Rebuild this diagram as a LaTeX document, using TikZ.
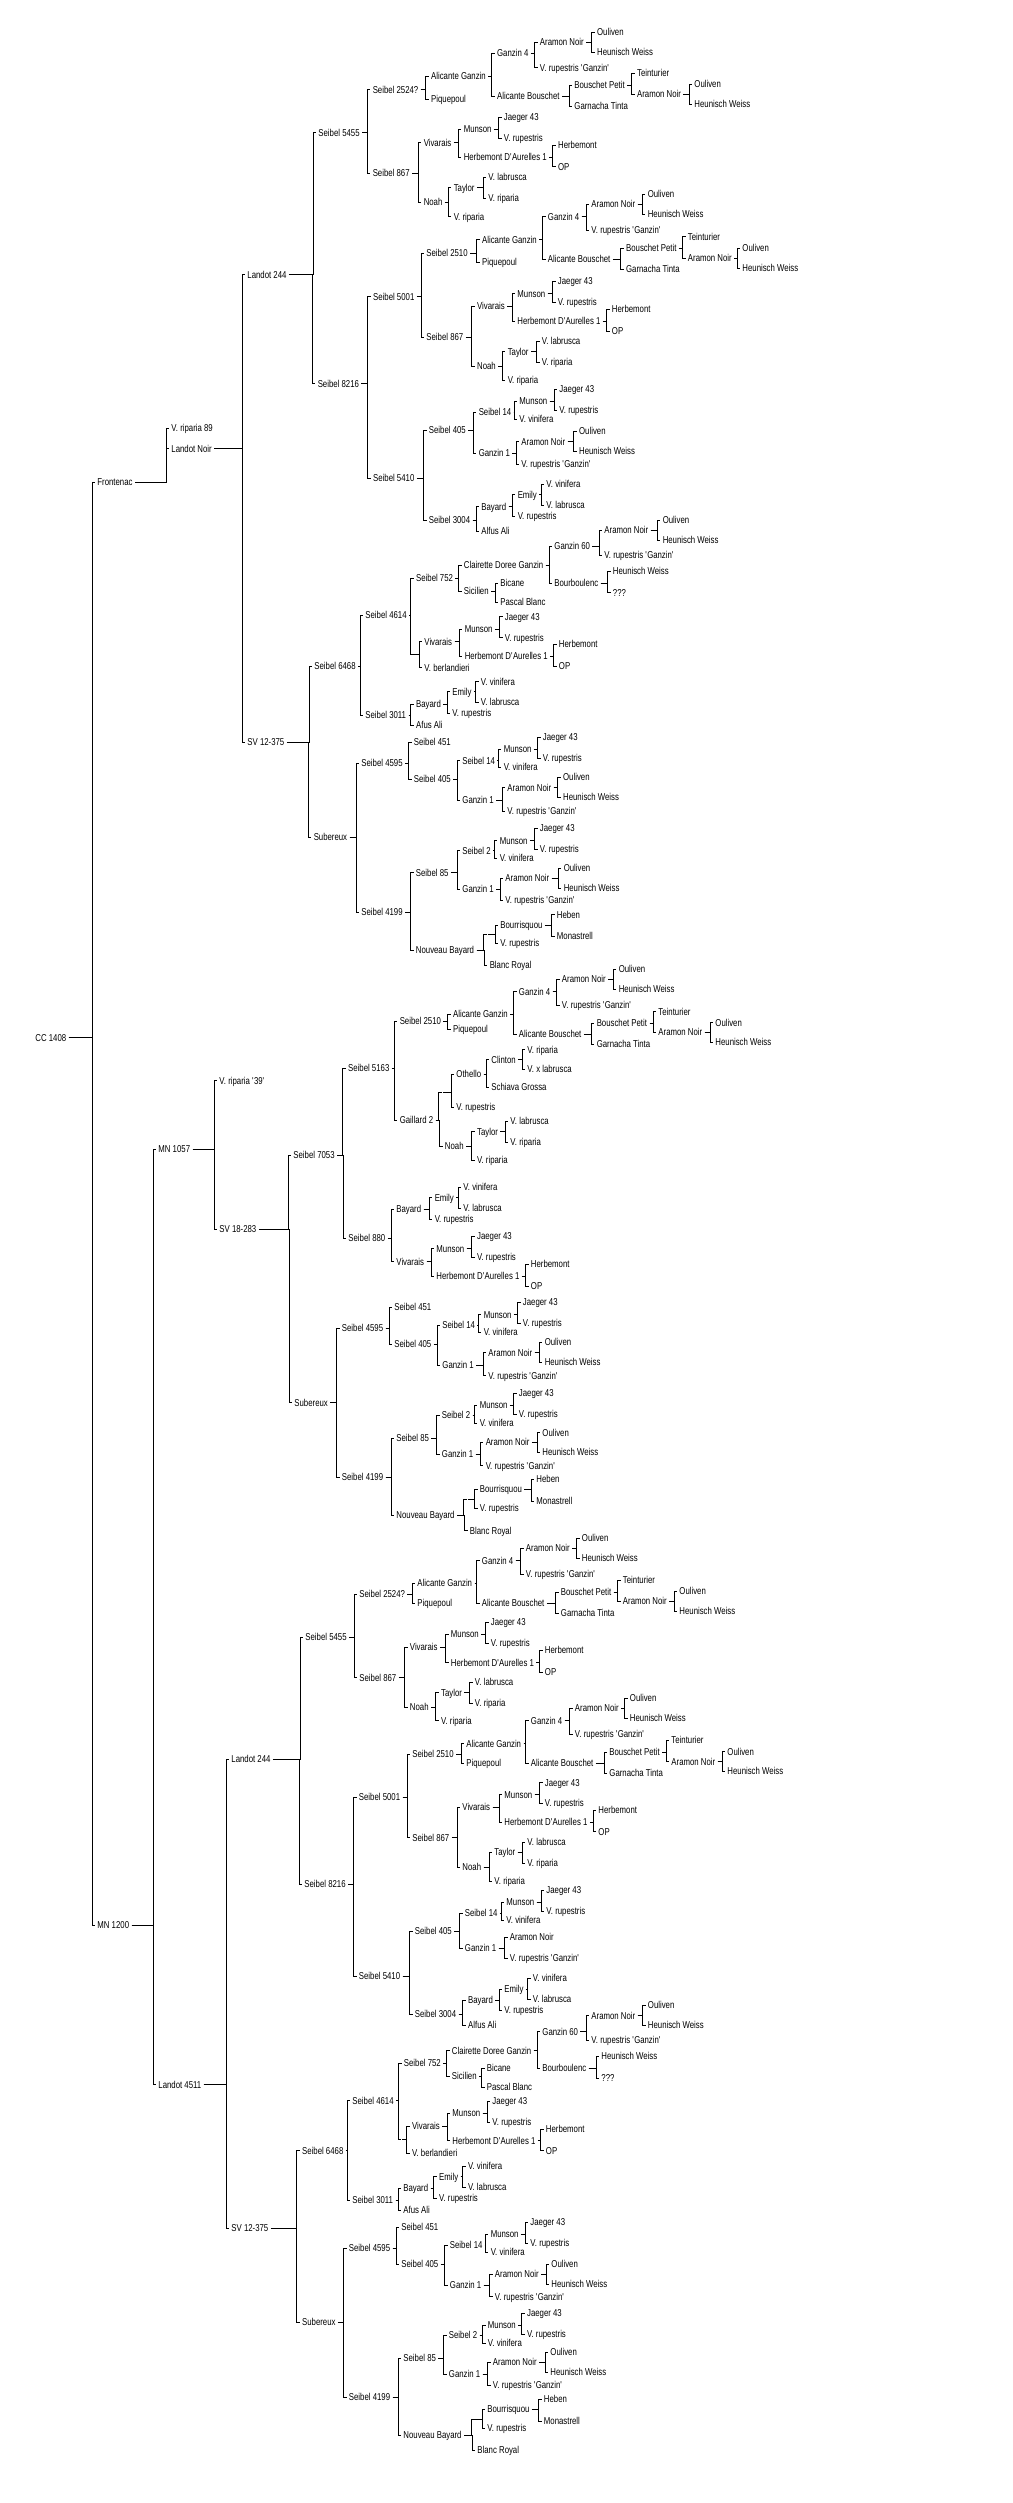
\documentclass[tikz,border=0pt]{standalone}
\usepackage{fontspec}
\newfontfamily\treefont[FakeStretch=0.78]{Liberation Sans}
\tikzset{
  vine/.style={anchor=west, xshift=-2pt, inner xsep=2pt, inner ysep=0pt, text height=7.2pt, text depth=0pt, font=\treefont},
  joint/.style={inner sep=0pt, minimum size=0pt}
}
\newcommand\link[2]{\draw (#1.east) -| ([xshift=-3pt]#2.west) -- (#2.west);}
\newcommand\qt{\textquotesingle}

\begin{document}
\begin{tikzpicture}[x=1pt, y=-1pt, line width=0.9pt]
    \fill[white] (0,0) rectangle (1012,2503);

    % left part
    \node[vine] (cc) at (35,1037.5) {CC 1408};
    \node[vine] (fr) at (97,482) {Frontenac};
    \node[vine] (vr89) at (171,428) {V. riparia 89};
    \node[vine] (ln) at (171,448.5) {Landot Noir};
    \node[vine] (mn1200) at (97,1925) {MN 1200};
    \node[vine] (mn1057) at (158,1149) {MN 1057};
    \node[vine] (l4511) at (158,2084.6) {Landot 4511};
    \node[vine] (vr39) at (219,1080.6) {V. riparia \qt39\qt};
    \node[vine] (sv18) at (219,1229) {SV 18-283};
    \node[vine] (la) at (247,274.5) {Landot 244};
    \node[vine] (sva) at (247,742) {SV 12-375};
    \node[vine] (lb) at (231,1759) {Landot 244};
    \node[vine] (svb) at (231,2228) {SV 12-375};
    \node[vine] (s7053) at (293,1155) {Seibel 7053};
    \node[vine] (subm) at (294,1402.7) {Subereux};
    \link{cc}{fr} \link{cc}{mn1200}
    \link{fr}{vr89} \link{fr}{ln}
    \link{ln}{la} \link{ln}{sva}
    \link{mn1200}{mn1057} \link{mn1200}{l4511}
    \link{mn1057}{vr39} \link{mn1057}{sv18}
    \link{sv18}{s7053} \link{sv18}{subm}
    \link{l4511}{lb} \link{l4511}{svb}

    % Landot 244 (top)
    \node[vine] (a1) at (318,132.7) {Seibel 5455};
    \node[vine] (a2) at (372.3,89.7) {Seibel 2524?};
    \node[vine] (a3) at (372.3,173) {Seibel 867};
    \node[vine] (a4) at (430.7,76.3) {Alicante Ganzin};
    \node[vine] (a5) at (430.7,99.3) {Piquepoul};
    \node[vine] (a6) at (496.7,53.3) {Ganzin 4};
    \node[vine] (a7) at (496.7,96.3) {Alicante Bouschet};
    \node[vine] (a8) at (539.5,42.3) {Aramon Noir};
    \node[vine] (a9) at (539.5,67.7) {V. rupestris \qt Ganzin\qt};
    \node[vine] (a10) at (596.7,32.3) {Ouliven};
    \node[vine] (a11) at (596.7,52.3) {Heunisch Weiss};
    \node[vine] (a12) at (574,85.3) {Bouschet Petit};
    \node[vine] (a13) at (574,106.3) {Garnacha Tinta};
    \node[vine] (a14) at (636.7,73) {Teinturier};
    \node[vine] (a15) at (636.7,94.3) {Aramon Noir};
    \node[vine] (a16) at (694,84.3) {Ouliven};
    \node[vine] (a17) at (694,104.3) {Heunisch Weiss};
    \node[vine] (a18) at (423.3,142.7) {Vivarais};
    \node[vine] (a19) at (423.3,202.3) {Noah};
    \node[vine] (a20) at (463.3,129) {Munson};
    \node[vine] (a21) at (463.3,157) {Herbemont D\qt Aurelles 1};
    \node[vine] (a22) at (503.5,117.3) {Jaeger 43};
    \node[vine] (a23) at (503.5,138) {V. rupestris};
    \node[vine] (a24) at (557.7,145.3) {Herbemont};
    \node[vine] (a25) at (557.7,166.7) {OP};
    \node[vine] (a26) at (453.3,187.7) {Taylor};
    \node[vine] (a27) at (453.3,216.7) {V. riparia};
    \node[vine] (a28) at (488,177) {V. labrusca};
    \node[vine] (a29) at (488,198.3) {V. riparia};
    \node[vine] (a30) at (317.3,383.7) {Seibel 8216};
    \node[vine] (a31) at (372.7,296.7) {Seibel 5001};
    \node[vine] (a32) at (372.7,478.3) {Seibel 5410};
    \node[vine] (a33) at (426,253.3) {Seibel 2510};
    \node[vine] (a34) at (426,337.3) {Seibel 867};
    \node[vine] (a35) at (481.7,239.7) {Alicante Ganzin};
    \node[vine] (a36) at (481.7,262.3) {Piquepoul};
    \node[vine] (a37) at (547.5,216.7) {Ganzin 4};
    \node[vine] (a38) at (547.5,259.3) {Alicante Bouschet};
    \node[vine] (a39) at (591,204.3) {Aramon Noir};
    \node[vine] (a40) at (591,230) {V. rupestris \qt Ganzin\qt};
    \node[vine] (a41) at (647.3,194.3) {Ouliven};
    \node[vine] (a42) at (647.3,214.3) {Heunisch Weiss};
    \node[vine] (a43) at (625.7,248.3) {Bouschet Petit};
    \node[vine] (a44) at (625.7,269) {Garnacha Tinta};
    \node[vine] (a45) at (687.5,236.7) {Teinturier};
    \node[vine] (a46) at (687.5,258.3) {Aramon Noir};
    \node[vine] (a47) at (742,248.3) {Ouliven};
    \node[vine] (a48) at (742,268.3) {Heunisch Weiss};
    \node[vine] (a49) at (476.7,306) {Vivarais};
    \node[vine] (a50) at (476.7,366.3) {Noah};
    \node[vine] (a51) at (517,293.7) {Munson};
    \node[vine] (a52) at (517,321.3) {Herbemont D\qt Aurelles 1};
    \node[vine] (a53) at (557.5,281.3) {Jaeger 43};
    \node[vine] (a54) at (557.5,302.3) {V. rupestris};
    \node[vine] (a55) at (611.5,309.3) {Herbemont};
    \node[vine] (a56) at (611.5,331) {OP};
    \node[vine] (a57) at (507.3,351.7) {Taylor};
    \node[vine] (a58) at (507.3,380) {V. riparia};
    \node[vine] (a59) at (541.5,341.3) {V. labrusca};
    \node[vine] (a60) at (541.5,362.3) {V. riparia};
    \node[vine] (a61) at (428.5,430.3) {Seibel 405};
    \node[vine] (a62) at (428.5,520) {Seibel 3004};
    \node[vine] (a63) at (478.3,412.3) {Seibel 14};
    \node[vine] (a64) at (478.3,453.3) {Ganzin 1};
    \node[vine] (a65) at (519,401.3) {Munson};
    \node[vine] (a66) at (519,419.3) {V. vinifera};
    \node[vine] (a67) at (559,389) {Jaeger 43};
    \node[vine] (a68) at (559,410) {V. rupestris};
    \node[vine] (a69) at (521,441.7) {Aramon Noir};
    \node[vine] (a70) at (521,464) {V. rupestris \qt Ganzin\qt};
    \node[vine] (a71) at (578.7,431.3) {Ouliven};
    \node[vine] (a72) at (578.7,451.3) {Heunisch Weiss};
    \node[vine] (a73) at (481,506.7) {Bayard};
    \node[vine] (a74) at (481,531) {Alfus Ali};
    \node[vine] (a75) at (517.3,494.7) {Emily};
    \node[vine] (a76) at (517.3,516.3) {V. rupestris};
    \node[vine] (a77) at (546,484) {V. vinifera};
    \node[vine] (a78) at (546,505.3) {V. labrusca};
    \link{la}{a1} \link{la}{a30}
    \link{a1}{a2} \link{a1}{a3}
    \link{a2}{a4} \link{a2}{a5}
    \link{a4}{a6} \link{a4}{a7}
    \link{a6}{a8} \link{a6}{a9}
    \link{a8}{a10} \link{a8}{a11}
    \link{a7}{a12} \link{a7}{a13}
    \link{a12}{a14} \link{a12}{a15}
    \link{a15}{a16} \link{a15}{a17}
    \link{a3}{a18} \link{a3}{a19}
    \link{a18}{a20} \link{a18}{a21}
    \link{a20}{a22} \link{a20}{a23}
    \link{a21}{a24} \link{a21}{a25}
    \link{a19}{a26} \link{a19}{a27}
    \link{a26}{a28} \link{a26}{a29}
    \link{a30}{a31} \link{a30}{a32}
    \link{a31}{a33} \link{a31}{a34}
    \link{a33}{a35} \link{a33}{a36}
    \link{a35}{a37} \link{a35}{a38}
    \link{a37}{a39} \link{a37}{a40}
    \link{a39}{a41} \link{a39}{a42}
    \link{a38}{a43} \link{a38}{a44}
    \link{a43}{a45} \link{a43}{a46}
    \link{a46}{a47} \link{a46}{a48}
    \link{a34}{a49} \link{a34}{a50}
    \link{a49}{a51} \link{a49}{a52}
    \link{a51}{a53} \link{a51}{a54}
    \link{a52}{a55} \link{a52}{a56}
    \link{a50}{a57} \link{a50}{a58}
    \link{a57}{a59} \link{a57}{a60}
    \link{a32}{a61} \link{a32}{a62}
    \link{a61}{a63} \link{a61}{a64}
    \link{a63}{a65} \link{a63}{a66}
    \link{a65}{a67} \link{a65}{a68}
    \link{a64}{a69} \link{a64}{a70}
    \link{a69}{a71} \link{a69}{a72}
    \link{a62}{a73} \link{a62}{a74}
    \link{a73}{a75} \link{a73}{a76}
    \link{a75}{a77} \link{a75}{a78}

    % SV 12-375 (top)
    \node[vine] (b1) at (314,666) {Seibel 6468};
    \node[vine] (b2) at (365,615.3) {Seibel 4614};
    \node[vine] (b3) at (365,715) {Seibel 3011};
    \node[vine] (b4) at (415.7,578.3) {Seibel 752};
    \node[joint] (b5) at (414,654.3) {};
    \node[vine] (b6) at (463.5,565.3) {Clairette Doree Ganzin};
    \node[vine] (b7) at (463.5,591) {Sicilien};
    \node[vine] (b8) at (554,546) {Ganzin 60};
    \node[vine] (b9) at (554,583.3) {Bourboulenc};
    \node[vine] (b10) at (604,530) {Aramon Noir};
    \node[vine] (b11) at (604,555) {V. rupestris \qt Ganzin\qt};
    \node[vine] (b12) at (662.3,520.3) {Ouliven};
    \node[vine] (b13) at (662.3,540) {Heunisch Weiss};
    \node[vine] (b14) at (612.5,571.3) {Heunisch Weiss};
    \node[vine] (b15) at (612.5,592.7) {???};
    \node[vine] (b16) at (500,583.3) {Bicane};
    \node[vine] (b17) at (500,602.3) {Pascal Blanc};
    \node[vine] (b18) at (424,641.7) {Vivarais};
    \node[vine] (b19) at (424,667.7) {V. berlandieri};
    \node[vine] (b20) at (464.3,629) {Munson};
    \node[vine] (b21) at (464.3,656.3) {Herbemont D\qt Aurelles 1};
    \node[vine] (b22) at (504.5,616.7) {Jaeger 43};
    \node[vine] (b23) at (504.5,637.7) {V. rupestris};
    \node[vine] (b24) at (558.5,644.3) {Herbemont};
    \node[vine] (b25) at (558.5,666) {OP};
    \node[vine] (b26) at (415.7,704) {Bayard};
    \node[vine] (b27) at (415.7,725) {Afus Ali};
    \node[vine] (b28) at (452,691.7) {Emily};
    \node[vine] (b29) at (452,713.3) {V. rupestris};
    \node[vine] (b30) at (480.5,681.7) {V. vinifera};
    \node[vine] (b31) at (480.5,702.3) {V. labrusca};
    \node[vine] (b32) at (313.3,837.3) {Subereux};
    \node[vine] (b33) at (361,763.3) {Seibel 4595};
    \node[vine] (b34) at (361,912.3) {Seibel 4199};
    \node[vine] (b35) at (413.5,742.3) {Seibel 451};
    \node[vine] (b36) at (413.5,779.3) {Seibel 405};
    \node[vine] (b37) at (462,760.7) {Seibel 14};
    \node[vine] (b38) at (462,800.3) {Ganzin 1};
    \node[vine] (b39) at (503.3,749.3) {Munson};
    \node[vine] (b40) at (503.3,767.3) {V. vinifera};
    \node[vine] (b41) at (542.5,737.3) {Jaeger 43};
    \node[vine] (b42) at (542.5,758.3) {V. rupestris};
    \node[vine] (b43) at (507,787.7) {Aramon Noir};
    \node[vine] (b44) at (507,811.3) {V. rupestris \qt Ganzin\qt};
    \node[vine] (b45) at (562.7,777.3) {Ouliven};
    \node[vine] (b46) at (562.7,797) {Heunisch Weiss};
    \node[vine] (b47) at (415.5,872.7) {Seibel 85};
    \node[vine] (b48) at (415.5,950.3) {Nouveau Bayard};
    \node[vine] (b49) at (462,850.7) {Seibel 2};
    \node[vine] (b50) at (462,889.3) {Ganzin 1};
    \node[vine] (b51) at (499.3,840.7) {Munson};
    \node[vine] (b52) at (499.3,858.3) {V. vinifera};
    \node[vine] (b53) at (539.5,828.3) {Jaeger 43};
    \node[vine] (b54) at (539.5,849.3) {V. rupestris};
    \node[vine] (b55) at (505,878.3) {Aramon Noir};
    \node[vine] (b56) at (505,900) {V. rupestris \qt Ganzin\qt};
    \node[vine] (b57) at (563.3,868.3) {Ouliven};
    \node[vine] (b58) at (563.3,888.3) {Heunisch Weiss};
    \node[joint] (b59) at (487.3,934.3) {};
    \node[vine] (b60) at (489.3,965.3) {Blanc Royal};
    \node[vine] (b61) at (500,925) {Bourrisquou};
    \node[vine] (b62) at (500,943.3) {V. rupestris};
    \node[vine] (b63) at (556.5,914.7) {Heben};
    \node[vine] (b64) at (556.5,936.3) {Monastrell};
    \link{sva}{b1} \link{sva}{b32}
    \link{b1}{b2} \link{b1}{b3}
    \link{b2}{b4} \link{b2}{b5}
    \link{b4}{b6} \link{b4}{b7}
    \link{b6}{b8} \link{b6}{b9}
    \link{b8}{b10} \link{b8}{b11}
    \link{b10}{b12} \link{b10}{b13}
    \link{b9}{b14} \link{b9}{b15}
    \link{b7}{b16} \link{b7}{b17}
    \link{b5}{b18} \link{b5}{b19}
    \link{b18}{b20} \link{b18}{b21}
    \link{b20}{b22} \link{b20}{b23}
    \link{b21}{b24} \link{b21}{b25}
    \link{b3}{b26} \link{b3}{b27}
    \link{b26}{b28} \link{b26}{b29}
    \link{b28}{b30} \link{b28}{b31}
    \link{b32}{b33} \link{b32}{b34}
    \link{b33}{b35} \link{b33}{b36}
    \link{b36}{b37} \link{b36}{b38}
    \link{b37}{b39} \link{b37}{b40}
    \link{b39}{b41} \link{b39}{b42}
    \link{b38}{b43} \link{b38}{b44}
    \link{b43}{b45} \link{b43}{b46}
    \link{b34}{b47} \link{b34}{b48}
    \link{b47}{b49} \link{b47}{b50}
    \link{b49}{b51} \link{b49}{b52}
    \link{b51}{b53} \link{b51}{b54}
    \link{b50}{b55} \link{b50}{b56}
    \link{b55}{b57} \link{b55}{b58}
    \link{b48}{b59} \link{b48}{b60}
    \link{b59}{b61} \link{b59}{b62}
    \link{b61}{b63} \link{b61}{b64}

    % SV 18-283
    \node[vine] (c1) at (347.7,1068.3) {Seibel 5163};
    \node[vine] (c2) at (348,1238.3) {Seibel 880};
    \node[vine] (c3) at (399.3,1021) {Seibel 2510};
    \node[vine] (c4) at (399.3,1120.3) {Gaillard 2};
    \node[vine] (c5) at (452.7,1014.3) {Alicante Ganzin};
    \node[vine] (c6) at (452.7,1029.3) {Piquepoul};
    \node[vine] (c7) at (518.5,991.7) {Ganzin 4};
    \node[vine] (c8) at (518.5,1034.3) {Alicante Bouschet};
    \node[vine] (c9) at (561.5,979.3) {Aramon Noir};
    \node[vine] (c10) at (561.5,1005) {V. rupestris \qt Ganzin\qt};
    \node[vine] (c11) at (618.3,969.3) {Ouliven};
    \node[vine] (c12) at (618.3,989.3) {Heunisch Weiss};
    \node[vine] (c13) at (596.3,1023.3) {Bouschet Petit};
    \node[vine] (c14) at (596.3,1044.3) {Garnacha Tinta};
    \node[vine] (c15) at (658,1011.7) {Teinturier};
    \node[vine] (c16) at (658,1032.3) {Aramon Noir};
    \node[vine] (c17) at (715,1022.7) {Ouliven};
    \node[vine] (c18) at (715,1042.3) {Heunisch Weiss};
    \node[joint] (c19) at (442.3,1092.7) {};
    \node[vine] (c20) at (444.5,1146.3) {Noah};
    \node[vine] (c21) at (456,1074.3) {Othello};
    \node[vine] (c22) at (456,1107.3) {V. rupestris};
    \node[vine] (c23) at (491,1059.7) {Clinton};
    \node[vine] (c24) at (491,1087.3) {Schiava Grossa};
    \node[vine] (c25) at (527,1049.7) {V. riparia};
    \node[vine] (c26) at (527,1069.3) {V. x labrusca};
    \node[vine] (c27) at (476.7,1131.7) {Taylor};
    \node[vine] (c28) at (476.7,1160.3) {V. riparia};
    \node[vine] (c29) at (510,1121.3) {V. labrusca};
    \node[vine] (c30) at (510,1142.3) {V. riparia};
    \node[vine] (c31) at (396,1209.3) {Bayard};
    \node[vine] (c32) at (396,1261.7) {Vivarais};
    \node[vine] (c33) at (434.3,1197.7) {Emily};
    \node[vine] (c34) at (434.3,1219) {V. rupestris};
    \node[vine] (c35) at (463,1187.3) {V. vinifera};
    \node[vine] (c36) at (463,1208) {V. labrusca};
    \node[vine] (c37) at (436,1248.7) {Munson};
    \node[vine] (c38) at (436,1276.3) {Herbemont D\qt Aurelles 1};
    \node[vine] (c39) at (476.7,1236.3) {Jaeger 43};
    \node[vine] (c40) at (476.7,1257.3) {V. rupestris};
    \node[vine] (c41) at (530.5,1264.3) {Herbemont};
    \node[vine] (c42) at (530.5,1286) {OP};
    \node[vine] (c43) at (341.5,1328.3) {Seibel 4595};
    \node[vine] (c44) at (341.5,1477.3) {Seibel 4199};
    \node[vine] (c45) at (394,1307.3) {Seibel 451};
    \node[vine] (c46) at (394,1344) {Seibel 405};
    \node[vine] (c47) at (442,1325.3) {Seibel 14};
    \node[vine] (c48) at (442,1365.3) {Ganzin 1};
    \node[vine] (c49) at (483.3,1314.7) {Munson};
    \node[vine] (c50) at (483.3,1332.3) {V. vinifera};
    \node[vine] (c51) at (522.5,1302.3) {Jaeger 43};
    \node[vine] (c52) at (522.5,1323.3) {V. rupestris};
    \node[vine] (c53) at (488,1352.7) {Aramon Noir};
    \node[vine] (c54) at (488,1375.7) {V. rupestris \qt Ganzin\qt};
    \node[vine] (c55) at (544.3,1342.3) {Ouliven};
    \node[vine] (c56) at (544.3,1362.3) {Heunisch Weiss};
    \node[vine] (c57) at (396,1438.3) {Seibel 85};
    \node[vine] (c58) at (396,1515.3) {Nouveau Bayard};
    \node[vine] (c59) at (441.5,1415.3) {Seibel 2};
    \node[vine] (c60) at (441.5,1454.3) {Ganzin 1};
    \node[vine] (c61) at (479.3,1405.3) {Munson};
    \node[vine] (c62) at (479.3,1423.3) {V. vinifera};
    \node[vine] (c63) at (518.5,1393.3) {Jaeger 43};
    \node[vine] (c64) at (518.5,1414.3) {V. rupestris};
    \node[vine] (c65) at (485.3,1442.3) {Aramon Noir};
    \node[vine] (c66) at (485.3,1465.7) {V. rupestris \qt Ganzin\qt};
    \node[vine] (c67) at (542,1432.7) {Ouliven};
    \node[vine] (c68) at (542,1452.3) {Heunisch Weiss};
    \node[joint] (c69) at (467.3,1499.3) {};
    \node[vine] (c70) at (469.5,1530.7) {Blanc Royal};
    \node[vine] (c71) at (479.5,1489.3) {Bourrisquou};
    \node[vine] (c72) at (479.5,1508.3) {V. rupestris};
    \node[vine] (c73) at (536,1479.3) {Heben};
    \node[vine] (c74) at (536,1501) {Monastrell};
    \link{s7053}{c1} \link{s7053}{c2}
    \link{c1}{c3} \link{c1}{c4}
    \link{c3}{c5} \link{c3}{c6}
    \link{c5}{c7} \link{c5}{c8}
    \link{c7}{c9} \link{c7}{c10}
    \link{c9}{c11} \link{c9}{c12}
    \link{c8}{c13} \link{c8}{c14}
    \link{c13}{c15} \link{c13}{c16}
    \link{c16}{c17} \link{c16}{c18}
    \link{c4}{c19} \link{c4}{c20}
    \link{c19}{c21} \link{c19}{c22}
    \link{c21}{c23} \link{c21}{c24}
    \link{c23}{c25} \link{c23}{c26}
    \link{c20}{c27} \link{c20}{c28}
    \link{c27}{c29} \link{c27}{c30}
    \link{c2}{c31} \link{c2}{c32}
    \link{c31}{c33} \link{c31}{c34}
    \link{c33}{c35} \link{c33}{c36}
    \link{c32}{c37} \link{c32}{c38}
    \link{c37}{c39} \link{c37}{c40}
    \link{c38}{c41} \link{c38}{c42}
    \link{subm}{c43} \link{subm}{c44}
    \link{c43}{c45} \link{c43}{c46}
    \link{c46}{c47} \link{c46}{c48}
    \link{c47}{c49} \link{c47}{c50}
    \link{c49}{c51} \link{c49}{c52}
    \link{c48}{c53} \link{c48}{c54}
    \link{c53}{c55} \link{c53}{c56}
    \link{c44}{c57} \link{c44}{c58}
    \link{c57}{c59} \link{c57}{c60}
    \link{c59}{c61} \link{c59}{c62}
    \link{c61}{c63} \link{c61}{c64}
    \link{c60}{c65} \link{c60}{c66}
    \link{c65}{c67} \link{c65}{c68}
    \link{c58}{c69} \link{c58}{c70}
    \link{c69}{c71} \link{c69}{c72}
    \link{c71}{c73} \link{c71}{c74}

    % Landot 244 (bottom)
    \node[vine] (d1) at (305,1637) {Seibel 5455};
    \node[vine] (d2) at (359,1594.3) {Seibel 2524?};
    \node[vine] (d3) at (359,1677.7) {Seibel 867};
    \node[vine] (d4) at (417,1583.3) {Alicante Ganzin};
    \node[vine] (d5) at (417,1603.3) {Piquepoul};
    \node[vine] (d6) at (481.5,1560.7) {Ganzin 4};
    \node[vine] (d7) at (481.5,1603.3) {Alicante Bouschet};
    \node[vine] (d8) at (525.5,1548.3) {Aramon Noir};
    \node[vine] (d9) at (525.5,1574.3) {V. rupestris \qt Ganzin\qt};
    \node[vine] (d10) at (581.5,1538.3) {Ouliven};
    \node[vine] (d11) at (581.5,1558.3) {Heunisch Weiss};
    \node[vine] (d12) at (560.5,1592) {Bouschet Petit};
    \node[vine] (d13) at (560.5,1613.3) {Garnacha Tinta};
    \node[vine] (d14) at (622.5,1580.3) {Teinturier};
    \node[vine] (d15) at (622.5,1601.3) {Aramon Noir};
    \node[vine] (d16) at (679,1591.3) {Ouliven};
    \node[vine] (d17) at (679,1611) {Heunisch Weiss};
    \node[vine] (d18) at (409.5,1647.3) {Vivarais};
    \node[vine] (d19) at (409.5,1707.3) {Noah};
    \node[vine] (d20) at (450.5,1634.3) {Munson};
    \node[vine] (d21) at (450.5,1662.7) {Herbemont D\qt Aurelles 1};
    \node[vine] (d22) at (490.5,1622.3) {Jaeger 43};
    \node[vine] (d23) at (490.5,1643.3) {V. rupestris};
    \node[vine] (d24) at (544.5,1650.3) {Herbemont};
    \node[vine] (d25) at (544.5,1672) {OP};
    \node[vine] (d26) at (440.7,1692.7) {Taylor};
    \node[vine] (d27) at (440.7,1720.7) {V. riparia};
    \node[vine] (d28) at (474.5,1682.3) {V. labrusca};
    \node[vine] (d29) at (474.5,1703.3) {V. riparia};
    \node[vine] (d30) at (304,1884.3) {Seibel 8216};
    \node[vine] (d31) at (358.5,1797.3) {Seibel 5001};
    \node[vine] (d32) at (358.5,1976) {Seibel 5410};
    \node[vine] (d33) at (412,1754) {Seibel 2510};
    \node[vine] (d34) at (412,1837.7) {Seibel 867};
    \node[vine] (d35) at (466,1743.7) {Alicante Ganzin};
    \node[vine] (d36) at (466,1763.3) {Piquepoul};
    \node[vine] (d37) at (530.5,1720.7) {Ganzin 4};
    \node[vine] (d38) at (530.5,1763.3) {Alicante Bouschet};
    \node[vine] (d39) at (574.5,1708.3) {Aramon Noir};
    \node[vine] (d40) at (574.5,1734.3) {V. rupestris \qt Ganzin\qt};
    \node[vine] (d41) at (629.5,1698.3) {Ouliven};
    \node[vine] (d42) at (629.5,1718.3) {Heunisch Weiss};
    \node[vine] (d43) at (609,1752.3) {Bouschet Petit};
    \node[vine] (d44) at (609,1773.3) {Garnacha Tinta};
    \node[vine] (d45) at (671,1740) {Teinturier};
    \node[vine] (d46) at (671,1761.7) {Aramon Noir};
    \node[vine] (d47) at (727,1751.7) {Ouliven};
    \node[vine] (d48) at (727,1771) {Heunisch Weiss};
    \node[vine] (d49) at (462,1807.3) {Vivarais};
    \node[vine] (d50) at (462,1867.3) {Noah};
    \node[vine] (d51) at (504,1794.7) {Munson};
    \node[vine] (d52) at (504,1822.3) {Herbemont D\qt Aurelles 1};
    \node[vine] (d53) at (544.5,1782.7) {Jaeger 43};
    \node[vine] (d54) at (544.5,1803.3) {V. rupestris};
    \node[vine] (d55) at (598,1810.3) {Herbemont};
    \node[vine] (d56) at (598,1831.7) {OP};
    \node[vine] (d57) at (494,1852.3) {Taylor};
    \node[vine] (d58) at (494,1881) {V. riparia};
    \node[vine] (d59) at (527,1842.3) {V. labrusca};
    \node[vine] (d60) at (527,1863.3) {V. riparia};
    \node[vine] (d61) at (414.5,1931.3) {Seibel 405};
    \node[vine] (d62) at (414.5,2014) {Seibel 3004};
    \node[vine] (d63) at (464.5,1913.3) {Seibel 14};
    \node[vine] (d64) at (464.5,1948.3) {Ganzin 1};
    \node[vine] (d65) at (506,1902.3) {Munson};
    \node[vine] (d66) at (506,1920.3) {V. vinifera};
    \node[vine] (d67) at (546,1890) {Jaeger 43};
    \node[vine] (d68) at (546,1911) {V. rupestris};
    \node[vine] (d69) at (509.5,1937.3) {Aramon Noir};
    \node[vine] (d70) at (509.5,1958.3) {V. rupestris \qt Ganzin\qt};
    \node[vine] (d71) at (467.7,2000.3) {Bayard};
    \node[vine] (d72) at (467.7,2025) {Alfus Ali};
    \node[vine] (d73) at (504,1989) {Emily};
    \node[vine] (d74) at (504,2010.3) {V. rupestris};
    \node[vine] (d75) at (532.5,1978.3) {V. vinifera};
    \node[vine] (d76) at (532.5,1999.3) {V. labrusca};
    \link{lb}{d1} \link{lb}{d30}
    \link{d1}{d2} \link{d1}{d3}
    \link{d2}{d4} \link{d2}{d5}
    \link{d4}{d6} \link{d4}{d7}
    \link{d6}{d8} \link{d6}{d9}
    \link{d8}{d10} \link{d8}{d11}
    \link{d7}{d12} \link{d7}{d13}
    \link{d12}{d14} \link{d12}{d15}
    \link{d15}{d16} \link{d15}{d17}
    \link{d3}{d18} \link{d3}{d19}
    \link{d18}{d20} \link{d18}{d21}
    \link{d20}{d22} \link{d20}{d23}
    \link{d21}{d24} \link{d21}{d25}
    \link{d19}{d26} \link{d19}{d27}
    \link{d26}{d28} \link{d26}{d29}
    \link{d30}{d31} \link{d30}{d32}
    \link{d31}{d33} \link{d31}{d34}
    \link{d33}{d35} \link{d33}{d36}
    \link{d35}{d37} \link{d35}{d38}
    \link{d37}{d39} \link{d37}{d40}
    \link{d39}{d41} \link{d39}{d42}
    \link{d38}{d43} \link{d38}{d44}
    \link{d43}{d45} \link{d43}{d46}
    \link{d46}{d47} \link{d46}{d48}
    \link{d34}{d49} \link{d34}{d50}
    \link{d49}{d51} \link{d49}{d52}
    \link{d51}{d53} \link{d51}{d54}
    \link{d52}{d55} \link{d52}{d56}
    \link{d50}{d57} \link{d50}{d58}
    \link{d57}{d59} \link{d57}{d60}
    \link{d32}{d61} \link{d32}{d62}
    \link{d61}{d63} \link{d61}{d64}
    \link{d63}{d65} \link{d63}{d66}
    \link{d65}{d67} \link{d65}{d68}
    \link{d64}{d69} \link{d64}{d70}
    \link{d62}{d71} \link{d62}{d72}
    \link{d71}{d73} \link{d71}{d74}
    \link{d73}{d75} \link{d73}{d76}

    % SV 12-375 (bottom)
    \node[vine] (e1) at (301.7,2150.7) {Seibel 6468};
    \node[vine] (e2) at (352,2100.7) {Seibel 4614};
    \node[vine] (e3) at (352,2200) {Seibel 3011};
    \node[vine] (e4) at (403.5,2063.3) {Seibel 752};
    \node[joint] (e5) at (401.7,2139.3) {};
    \node[vine] (e6) at (451.5,2050.7) {Clairette Doree Ganzin};
    \node[vine] (e7) at (451.5,2076) {Sicilien};
    \node[vine] (e8) at (542,2031.7) {Ganzin 60};
    \node[vine] (e9) at (542,2068.3) {Bourboulenc};
    \node[vine] (e10) at (591,2015.7) {Aramon Noir};
    \node[vine] (e11) at (591,2040) {V. rupestris \qt Ganzin\qt};
    \node[vine] (e12) at (647.5,2005.3) {Ouliven};
    \node[vine] (e13) at (647.5,2025) {Heunisch Weiss};
    \node[vine] (e14) at (601,2056.3) {Heunisch Weiss};
    \node[vine] (e15) at (601,2078.3) {???};
    \node[vine] (e16) at (486.5,2068.3) {Bicane};
    \node[vine] (e17) at (486.5,2087) {Pascal Blanc};
    \node[vine] (e18) at (411.7,2126) {Vivarais};
    \node[vine] (e19) at (411.7,2153.3) {V. berlandieri};
    \node[vine] (e20) at (452,2113.3) {Munson};
    \node[vine] (e21) at (452,2140.7) {Herbemont D\qt Aurelles 1};
    \node[vine] (e22) at (492,2101.3) {Jaeger 43};
    \node[vine] (e23) at (492,2122) {V. rupestris};
    \node[vine] (e24) at (545.5,2129.3) {Herbemont};
    \node[vine] (e25) at (545.5,2150.7) {OP};
    \node[vine] (e26) at (403,2188) {Bayard};
    \node[vine] (e27) at (403,2210) {Afus Ali};
    \node[vine] (e28) at (438.7,2176.7) {Emily};
    \node[vine] (e29) at (438.7,2198) {V. rupestris};
    \node[vine] (e30) at (467.7,2166.3) {V. vinifera};
    \node[vine] (e31) at (467.7,2187) {V. labrusca};
    \node[vine] (e32) at (301.7,2322.3) {Subereux};
    \node[vine] (e33) at (348.5,2248) {Seibel 4595};
    \node[vine] (e34) at (348.5,2397) {Seibel 4199};
    \node[vine] (e35) at (401,2227) {Seibel 451};
    \node[vine] (e36) at (401,2264.3) {Seibel 405};
    \node[vine] (e37) at (449.5,2245.3) {Seibel 14};
    \node[vine] (e38) at (449.5,2285) {Ganzin 1};
    \node[vine] (e39) at (490.3,2234.3) {Munson};
    \node[vine] (e40) at (490.3,2252) {V. vinifera};
    \node[vine] (e41) at (530,2222.3) {Jaeger 43};
    \node[vine] (e42) at (530,2243.3) {V. rupestris};
    \node[vine] (e43) at (494.5,2274.3) {Aramon Noir};
    \node[vine] (e44) at (494.5,2296.7) {V. rupestris \qt Ganzin\qt};
    \node[vine] (e45) at (551,2264.3) {Ouliven};
    \node[vine] (e46) at (551,2284.3) {Heunisch Weiss};
    \node[vine] (e47) at (403,2358.3) {Seibel 85};
    \node[vine] (e48) at (403,2435) {Nouveau Bayard};
    \node[vine] (e49) at (448.5,2335.3) {Seibel 2};
    \node[vine] (e50) at (448.5,2374) {Ganzin 1};
    \node[vine] (e51) at (487.5,2325) {Munson};
    \node[vine] (e52) at (487.5,2343.3) {V. vinifera};
    \node[vine] (e53) at (526.7,2313.3) {Jaeger 43};
    \node[vine] (e54) at (526.7,2334.3) {V. rupestris};
    \node[vine] (e55) at (492.5,2362.3) {Aramon Noir};
    \node[vine] (e56) at (492.5,2385) {V. rupestris \qt Ganzin\qt};
    \node[vine] (e57) at (550,2352.3) {Ouliven};
    \node[vine] (e58) at (550,2372.3) {Heunisch Weiss};
    \node[joint] (e59) at (475,2419.3) {};
    \node[vine] (e60) at (477,2450) {Blanc Royal};
    \node[vine] (e61) at (487,2409.3) {Bourrisquou};
    \node[vine] (e62) at (487,2428.3) {V. rupestris};
    \node[vine] (e63) at (543.5,2399.3) {Heben};
    \node[vine] (e64) at (543.5,2421) {Monastrell};
    \link{svb}{e1} \link{svb}{e32}
    \link{e1}{e2} \link{e1}{e3}
    \link{e2}{e4} \link{e2}{e5}
    \link{e4}{e6} \link{e4}{e7}
    \link{e6}{e8} \link{e6}{e9}
    \link{e8}{e10} \link{e8}{e11}
    \link{e10}{e12} \link{e10}{e13}
    \link{e9}{e14} \link{e9}{e15}
    \link{e7}{e16} \link{e7}{e17}
    \link{e5}{e18} \link{e5}{e19}
    \link{e18}{e20} \link{e18}{e21}
    \link{e20}{e22} \link{e20}{e23}
    \link{e21}{e24} \link{e21}{e25}
    \link{e3}{e26} \link{e3}{e27}
    \link{e26}{e28} \link{e26}{e29}
    \link{e28}{e30} \link{e28}{e31}
    \link{e32}{e33} \link{e32}{e34}
    \link{e33}{e35} \link{e33}{e36}
    \link{e36}{e37} \link{e36}{e38}
    \link{e37}{e39} \link{e37}{e40}
    \link{e39}{e41} \link{e39}{e42}
    \link{e38}{e43} \link{e38}{e44}
    \link{e43}{e45} \link{e43}{e46}
    \link{e34}{e47} \link{e34}{e48}
    \link{e47}{e49} \link{e47}{e50}
    \link{e49}{e51} \link{e49}{e52}
    \link{e51}{e53} \link{e51}{e54}
    \link{e50}{e55} \link{e50}{e56}
    \link{e55}{e57} \link{e55}{e58}
    \link{e48}{e59} \link{e48}{e60}
    \link{e59}{e61} \link{e59}{e62}
    \link{e61}{e63} \link{e61}{e64}
\end{tikzpicture}
\end{document}
